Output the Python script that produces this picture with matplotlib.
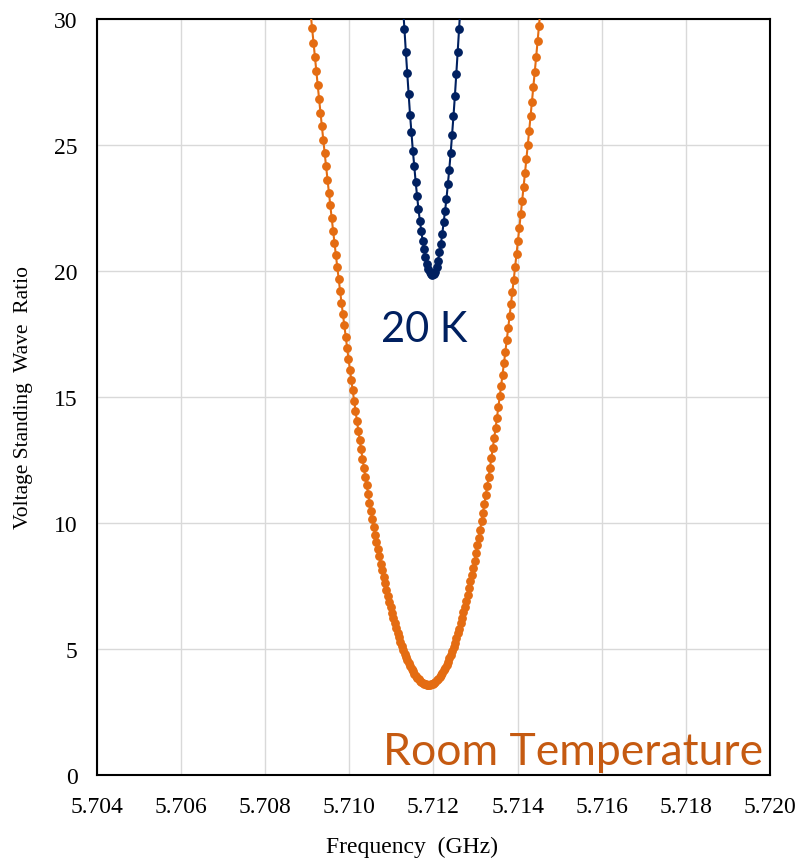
import numpy as np
import matplotlib
matplotlib.use("Agg")
import matplotlib.pyplot as plt

# frequency sweep (GHz): start and step of the analyser sweep
f_step = 0.0000333
f_start_rt = 5.70908
f_start_20k = 5.711276

# VSWR, one value per sweep point
vswr_rt = [
    30.21, 29.64, 29.06, 28.50, 27.93, 27.38, 26.83, 26.28, 25.74, 25.20,
    24.67, 24.15, 23.63, 23.11, 22.60, 22.10, 21.60, 21.11, 20.63, 20.15,
    19.67, 19.20, 18.74, 18.29, 17.84, 17.39, 16.95, 16.52, 16.09, 15.68,
    15.26, 14.85, 14.45, 14.06, 13.67, 13.29, 12.92, 12.55, 12.19, 11.83,
    11.49, 11.14, 10.81, 10.48, 10.16, 9.85, 9.54, 9.24, 8.95, 8.67,
    8.39, 8.12, 7.86, 7.60, 7.35, 7.11, 6.88, 6.65, 6.43, 6.22,
    6.02, 5.83, 5.64, 5.46, 5.29, 5.12, 4.97, 4.82, 4.68, 4.55,
    4.43, 4.31, 4.20, 4.11, 4.02, 3.93, 3.86, 3.79, 3.74, 3.69,
    3.65, 3.62, 3.60, 3.58, 3.58,
    3.59, 3.60, 3.62, 3.66, 3.70, 3.75, 3.81, 3.88, 3.96, 4.05,
    4.15, 4.26, 4.37, 4.50, 4.63, 4.77, 4.92, 5.08, 5.25, 5.43,
    5.62, 5.81, 6.02, 6.23, 6.45, 6.68, 6.92, 7.16, 7.42, 7.68,
    7.95, 8.23, 8.51, 8.81, 9.11, 9.42, 9.74, 10.07, 10.40, 10.75,
    11.10, 11.45, 11.82, 12.19, 12.57, 12.96, 13.36, 13.76, 14.17, 14.59,
    15.02, 15.45, 15.89, 16.34, 16.79, 17.25, 17.72, 18.20, 18.68, 19.17,
    19.66, 20.17, 20.68, 21.19, 21.72, 22.25, 22.78, 23.33, 23.88, 24.43,
    25.00, 25.56, 26.14, 26.72, 27.31, 27.90, 28.50, 29.11, 29.72, 30.34,
]

vswr_20k = [
    30.45, 29.60, 28.70, 27.86, 27.02, 26.20, 25.50, 24.77, 24.18, 23.54,
    22.99, 22.46, 22.00, 21.60, 21.20, 20.87, 20.54, 20.28, 20.08, 19.95,
    19.87, 19.85,
    19.90, 19.97, 20.15, 20.41, 20.74, 21.07, 21.47, 21.93, 22.39, 22.86,
    23.45, 24.02, 24.68, 25.40, 26.14, 26.93, 27.80, 28.68, 29.60, 30.50,
]

freq_rt = f_start_rt + f_step * np.arange(len(vswr_rt))
freq_20k = f_start_20k + f_step * np.arange(len(vswr_20k))

xticks = [5.704, 5.706, 5.708, 5.710, 5.712, 5.714, 5.716, 5.718, 5.720]
yticks = [0, 5, 10, 15, 20, 25, 30]

orange = '#E46C12'
navy = '#002060'
serif = 'Liberation Serif'

fig = plt.figure(figsize=(7.97, 8.62), dpi=100)
ax = fig.add_axes([0.1217, 0.0998, 0.8444, 0.877])

ax.plot(freq_rt, vswr_rt, '-o', color=orange, lw=1.5, ms=5.3,
        mec=orange, mfc=orange, zorder=3)
ax.plot(freq_20k, vswr_20k, '-o', color=navy, lw=1.5, ms=5.3,
        mec=navy, mfc=navy, zorder=3)

ax.set_xlim(5.704, 5.720)
ax.set_ylim(0, 30)
ax.set_xticks(xticks)
ax.set_xticklabels([f'{t:.3f}' for t in xticks], family=serif, fontsize=17)
ax.set_yticks(yticks)
ax.set_yticklabels([str(t) for t in yticks], family=serif, fontsize=17)
ax.tick_params(axis='x', length=0, pad=15)
ax.tick_params(axis='y', length=0, pad=14)
ax.grid(True, color='#D9D9D9', lw=1.0)
ax.set_axisbelow(True)
for s in ax.spines.values():
    s.set_color('black')
    s.set_linewidth(1.5)

ax.set_xlabel('Frequency  (GHz)', family=serif, fontsize=17)
ax.xaxis.set_label_coords(0.468, -0.081)
ax.set_ylabel('Voltage Standing  Wave  Ratio', family=serif, fontsize=15.5,
              labelpad=15)

ax.text(5.71179, 17.7, '20 K', color=navy, fontsize=30, family='Lato',
        ha='center', va='center')
ax.text(5.71531, 0.95, 'Room Temperature', color='#C55A11', fontsize=32,
        family='Lato', ha='center', va='center')

fig.savefig('out.png', dpi=100)
